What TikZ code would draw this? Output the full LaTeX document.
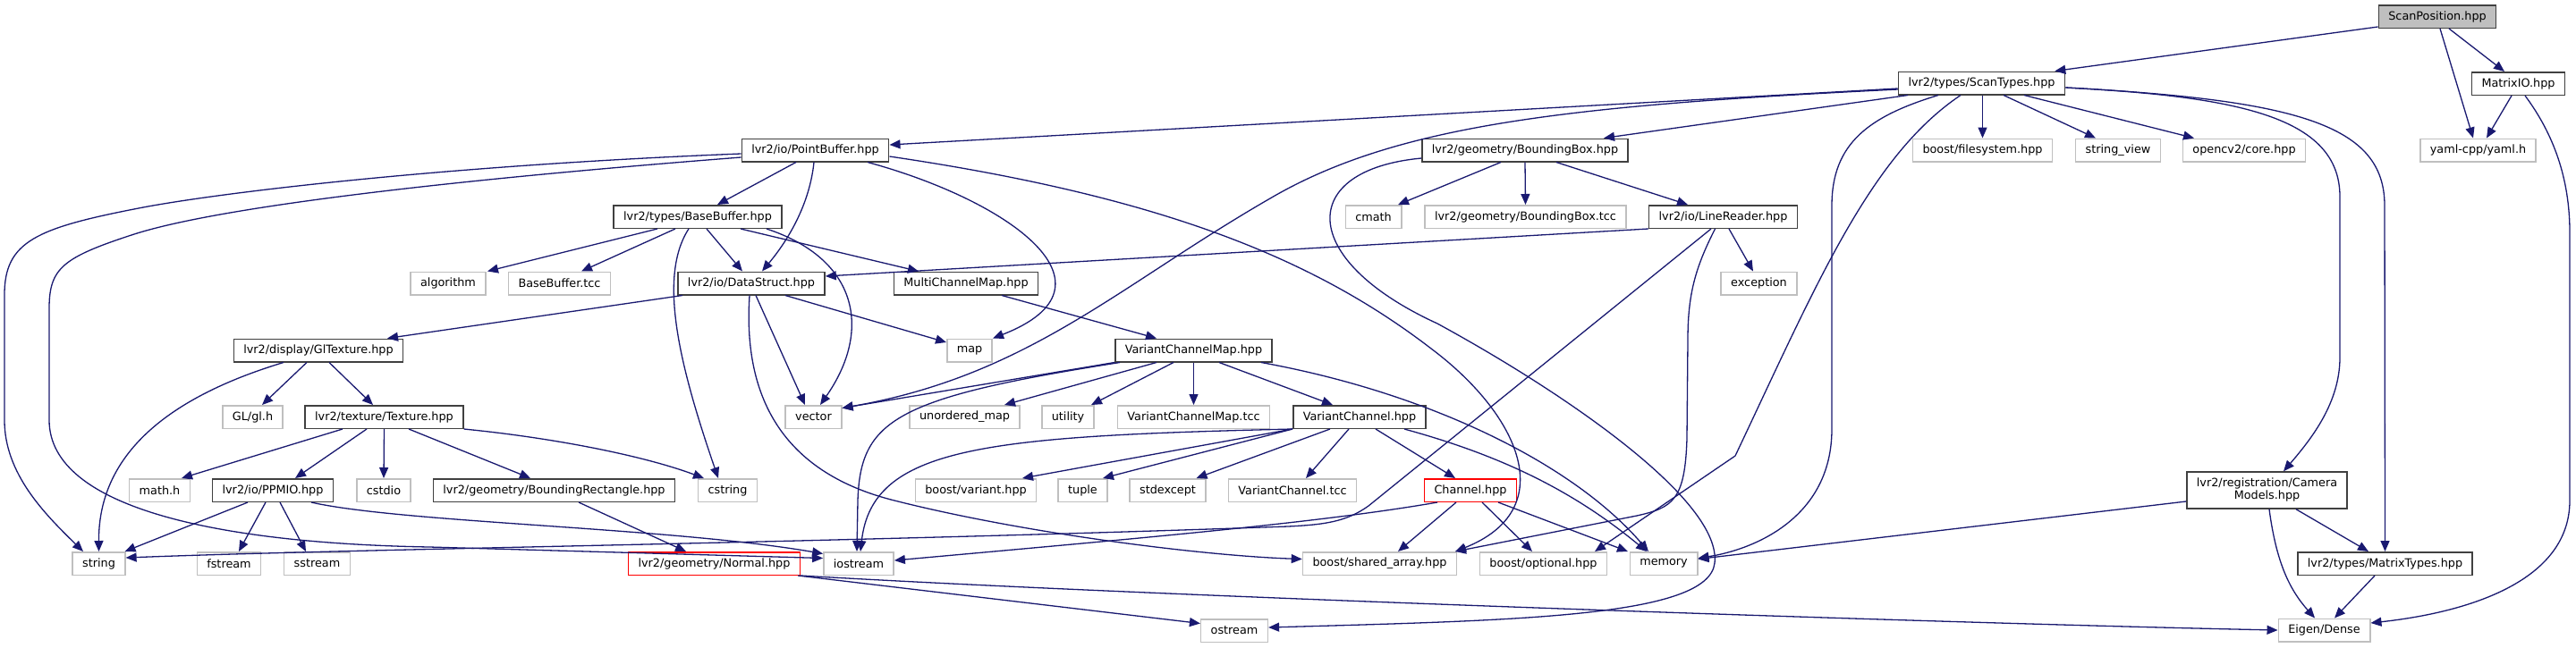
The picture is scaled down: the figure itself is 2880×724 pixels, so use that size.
\documentclass[tikz,border=0pt]{standalone}
\usepackage{fontspec}
\setmainfont{DejaVu Sans}
\usetikzlibrary{arrows.meta}
\definecolor{edgeblue}{HTML}{191970}
\definecolor{grey25}{HTML}{404040}
\definecolor{grey75}{HTML}{BFBFBF}
\tikzset{
  file/.style={draw=grey25,fill=white,line width=1.5pt,inner xsep=11pt,inner ysep=0pt,
    minimum height=25.5pt,font=\fontsize{12.8}{14}\selectfont},
  sysfile/.style={file,draw=grey75},
  cutfile/.style={file,draw=red},
  rootfile/.style={file,fill=grey75},
  inc/.style={draw=edgeblue,line width=1.3pt,-{Triangle[length=12pt,width=10pt]}}
}
\begin{document}
\begin{tikzpicture}[x=1pt,y=-1pt]
  \fill[white] (0,0) rectangle (2880,724);
  \useasboundingbox (0,0) rectangle (2880,724);

  % Included file and headers with docs
  \node[rootfile] (scanpos) at (2725,18.5) {ScanPosition.hpp};
  \foreach \n/\x/\y/\t in {matrixio/2815.5/93.5/{MatrixIO.hpp},
      scantypes/2215.5/93/{lvr2/types/ScanTypes.hpp},
      pointbuffer/911.5/168/{lvr2/io/PointBuffer.hpp},
      bbox/1705/168/{lvr2/geometry/BoundingBox.hpp},
      basebuffer/780/242.5/{lvr2/types/BaseBuffer.hpp},
      linereader/1926.5/242.5/{lvr2/io/LineReader.hpp},
      datastruct/840/317/{lvr2/io/DataStruct.hpp},
      mcm/1080/317/{MultiChannelMap.hpp},
      gltexture/356/392/{lvr2/display/GlTexture.hpp},
      vcm/1334.5/392/{VariantChannelMap.hpp},
      texture/429.5/466.5/{lvr2/texture/Texture.hpp},
      vc/1520/466.5/{VariantChannel.hpp},
      ppmio/305/548.5/{lvr2/io/PPMIO.hpp},
      brect/619.5/548.5/{lvr2/geometry/BoundingRectangle.hpp},
      matrixtypes/2666.5/630.5/{lvr2/types/MatrixTypes.hpp}} {
    \node[file] (\n) at (\x,\y) {\t};
  }
  \node[file,minimum height=41pt,font=\fontsize{12.8}{13.7}\selectfont] (camera) at (2534.5,548.5)
    {\begin{tabular}{@{}c@{}}lvr2/registration/Camera\\Models.hpp\end{tabular}};

  % Headers with truncated graphs
  \node[cutfile] (channel) at (1644,548.5) {Channel.hpp};
  \node[cutfile] (normal) at (798.5,630.5) {lvr2/geometry/Normal.hpp};

  % System and external headers
  \foreach \n/\x/\y/\t in {yaml/2770.5/168/{yaml-cpp/yaml.h},
      opencv/2509/168/{opencv2/core.hpp},
      stringview/2368/168/{string\_view},
      filesystem/2216.5/168/{boost/filesystem.hpp},
      cmath/1535.5/242.5/{cmath},
      bboxtcc/1705.5/242.5/{lvr2/geometry/BoundingBox.tcc},
      algorithm/501/317/{algorithm},
      basebuffertcc/625.5/317/{BaseBuffer.tcc},
      exception/1966.5/317/{exception},
      map/1084/392/{map},
      gl/282.5/466.5/{GL/gl.h},
      vector/909.5/466.5/{vector},
      unordered/1078.5/466.5/{unordered\_map},
      utility/1194/466.5/{utility},
      vcmtcc/1334.5/466.5/{VariantChannelMap.tcc},
      math/178.5/548.5/{math.h},
      cstdio/429/548.5/{cstdio},
      cstring/813.5/548.5/{cstring},
      variant/1091/548.5/{boost/variant.hpp},
      tuple/1210.5/548.5/{tuple},
      stdexcept/1305.5/548.5/{stdexcept},
      vctcc/1445/548.5/{VariantChannel.tcc},
      string/110.5/630.5/{string},
      fstream/256/630.5/{fstream},
      sstream/354.5/630.5/{sstream},
      iostream/960/630.5/{iostream},
      sharedarray/1542.5/630.5/{boost/shared\_array.hpp},
      optional/1725.5/630.5/{boost/optional.hpp},
      memory/1860/630.5/{memory},
      ostream/1380/705.5/{ostream},
      eigen/2598.5/705/{Eigen/Dense}} {
    \node[sysfile] (\n) at (\x,\y) {\t};
  }

  % ScanPosition.hpp and MatrixIO.hpp
  \draw[inc] ([yshift=2pt]scanpos.south west) -- ([xshift=-12pt]scantypes.north east);
  \draw[inc] ([xshift=3pt]scanpos.south) -- ([xshift=-5.5pt]yaml.north);
  \draw[inc] ([xshift=13pt]scanpos.south) -- ([xshift=-15.5pt]matrixio.north);
  \draw[inc] ([xshift=-7.5pt]matrixio.south) -- ([xshift=9.5pt]yaml.north);
  \draw[inc] ([xshift=7.5pt]matrixio.south) .. controls (2855,150) and (2873,200) .. (2873,260)
    -- (2873,560) .. controls (2873,650) and (2760,685) .. ([yshift=8pt]eigen.east);

  % ScanTypes.hpp
  \draw[inc] ([yshift=-6pt]scantypes.west) -- ([yshift=6pt]pointbuffer.east);
  \draw[inc] ([yshift=-7pt]scantypes.west) .. controls (1750,118) and (1560,140) .. (1420,222)
    .. controls (1250,320) and (1150,420) .. ([yshift=10pt]vector.east);
  \draw[inc] ([xshift=-82.5pt]scantypes.south) -- ([xshift=88pt]bbox.north);
  \draw[inc] ([xshift=1pt]scantypes.south) -- (filesystem.north);
  \draw[inc] ([xshift=24.5pt]scantypes.south) -- ([xshift=-25pt]stringview.north);
  \draw[inc] ([xshift=47.5pt]scantypes.south) -- ([xshift=-56pt]opencv.north);
  \draw[inc] ([yshift=-5pt]scantypes.east) .. controls (2500,108) and (2616,130) .. (2616,220)
    -- (2616,400) .. controls (2616,450) and (2585,490) .. ([xshift=18.5pt]camera.north);
  \draw[inc] ([yshift=-5pt]scantypes.east) .. controls (2570,112) and (2666,140) .. (2666,230)
    -- (matrixtypes.north);
  \draw[inc] ([xshift=-48.5pt]scantypes.south) .. controls (2090,130) and (2048,160) .. (2048,230)
    -- (2048,480) .. controls (2048,580) and (1960,615) .. ([yshift=6pt]memory.east);
  \draw[inc] ([xshift=-23.5pt]scantypes.south) .. controls (2090,175) and (2030,320) .. (1940,510)
    -- ([xshift=57.5pt]optional.north);

  % PointBuffer.hpp
  \draw[inc] ([xshift=-21.5pt]pointbuffer.south) -- ([xshift=22pt]basebuffer.north);
  \draw[inc] ([xshift=-1.5pt]pointbuffer.south) .. controls (905,230) and (880,270) .. ([xshift=12pt]datastruct.north);
  \draw[inc] ([yshift=-4pt]pointbuffer.west) .. controls (500,185) and (250,215) .. (160,232)
    .. controls (40,255) and (5,270) .. (5,330) -- (5,470)
    .. controls (5,530) and (50,575) .. ([xshift=-17.5pt]string.north);
  \draw[inc] ([yshift=-8pt]pointbuffer.west) .. controls (520,200) and (250,230) .. (150,262)
    .. controls (70,288) and (55,300) .. (55,345) -- (55,470)
    .. controls (55,570) and (250,608) .. (480,612) -- ([yshift=6pt]iostream.west);
  \draw[inc] ([xshift=58.5pt]pointbuffer.south) .. controls (1130,225) and (1260,320) .. ([xshift=26pt]map.north);
  \draw[inc] ([yshift=-7pt]pointbuffer.east) .. controls (1300,220) and (1470,290) .. (1600,390)
    .. controls (1700,465) and (1745,570) .. ([xshift=84.5pt]sharedarray.north);

  % BaseBuffer.hpp
  \draw[inc] ([xshift=-45pt]basebuffer.south) -- ([xshift=44pt]algorithm.north);
  \draw[inc] ([xshift=-25pt]basebuffer.south) -- ([xshift=24.5pt]basebuffertcc.north);
  \draw[inc] ([xshift=10pt]basebuffer.south) -- ([xshift=-10pt]datastruct.north);
  \draw[inc] ([xshift=-10pt]basebuffer.south) .. controls (735,310) and (760,410) .. ([xshift=-10.5pt]cstring.north);
  \draw[inc] ([xshift=77pt]basebuffer.south) .. controls (960,290) and (975,370) .. ([xshift=7.5pt]vector.north);
  \draw[inc] ([xshift=48pt]basebuffer.south) -- ([xshift=-53pt]mcm.north);

  % BoundingBox.hpp
  \draw[inc] ([xshift=-27pt]bbox.south) -- ([xshift=27.5pt]cmath.north);
  \draw[inc] (bbox.south) -- (bboxtcc.north);
  \draw[inc] ([xshift=35pt]bbox.south) -- ([xshift=-39.5pt]linereader.north);
  \draw[inc] ([yshift=-9pt]bbox.west) .. controls (1450,190) and (1450,290) .. (1607,362)
    .. controls (1750,440) and (1925,560) .. (1917,630)
    .. controls (1910,690) and (1700,694) .. ([yshift=3.5pt]ostream.east);

  % LineReader.hpp
  \draw[inc] (linereader.south west) -- ([yshift=8pt]datastruct.east);
  \draw[inc] ([xshift=6.5pt]linereader.south) -- ([xshift=-6.5pt]exception.north);
  \draw[inc] ([xshift=-13.5pt]linereader.south) -- (1530,566)
    .. controls (1505,584) and (1480,587) .. (1440,589)
    .. controls (900,608) and (400,614) .. ([yshift=6.5pt]string.east);
  \draw[inc] ([xshift=-9pt]linereader.south) .. controls (1895,300) and (1887,330) .. (1887,380)
    -- (1886,490) .. controls (1884,560) and (1870,568) .. (1830,577) -- ([xshift=84.5pt]sharedarray.north);

  % DataStruct.hpp and MultiChannelMap.hpp
  \draw[inc] ([xshift=-77pt]datastruct.south) -- ([xshift=77pt]gltexture.north);
  \draw[inc] ([xshift=38pt]datastruct.south) -- ([yshift=9pt]map.west);
  \draw[inc] ([xshift=5pt]datastruct.south) -- ([xshift=-9.5pt]vector.north);
  \draw[inc] ([xshift=-2pt]datastruct.south) .. controls (830,450) and (880,530) .. (1000,560)
    .. controls (1150,598) and (1350,622) .. ([yshift=5pt]sharedarray.west);
  \draw[inc] ([xshift=40pt]mcm.south) -- ([xshift=-41.5pt]vcm.north);

  % GlTexture.hpp, Texture.hpp, PPMIO.hpp
  \draw[inc] ([xshift=-39pt]gltexture.south) .. controls (170,450) and (110,520) .. (string.north);
  \draw[inc] ([xshift=-13pt]gltexture.south) -- ([xshift=10.5pt]gl.north);
  \draw[inc] ([xshift=12pt]gltexture.south) -- ([xshift=-12.5pt]texture.north);
  \draw[inc] ([xshift=-46.5pt]texture.south) -- ([xshift=24.5pt]math.north);
  \draw[inc] ([xshift=-19.5pt]texture.south) -- ([xshift=25pt]ppmio.north);
  \draw[inc] (texture.south) -- (cstdio.north);
  \draw[inc] ([xshift=27.5pt]texture.south) -- ([xshift=-26.5pt]brect.north);
  \draw[inc] (texture.south east) .. controls (620,490) and (720,510) .. ([xshift=-26.5pt]cstring.north);
  \draw[inc] ([xshift=-28pt]ppmio.south) -- ([xshift=29pt]string.north);
  \draw[inc] ([xshift=-8pt]ppmio.south) -- ([xshift=11pt]fstream.north);
  \draw[inc] ([xshift=8pt]ppmio.south) -- ([xshift=-12.5pt]sstream.north);
  \draw[inc] ([xshift=43pt]ppmio.south) .. controls (450,585) and (750,590) .. ([yshift=11pt]iostream.west);

  % BoundingRectangle.hpp and Normal.hpp
  \draw[inc] ([xshift=27.5pt]brect.south) -- ([xshift=-31.5pt]normal.north);
  \draw[inc] ([xshift=-3pt]normal.south east) -- ([yshift=8pt]ostream.west);
  \draw[inc] (normal.south east) .. controls (1300,668) and (2200,698) .. (eigen.west);

  % VariantChannelMap.hpp
  \draw[inc] (vcm.south west) -- ([yshift=10pt]vector.east);
  \draw[inc] ([xshift=6pt]vcm.south west) .. controls (1000,445) and (962,470) .. (959,560)
    -- ([xshift=-2pt]iostream.north);
  \draw[inc] ([xshift=-41.5pt]vcm.south) -- ([xshift=44.5pt]unordered.north);
  \draw[inc] ([xshift=-22.5pt]vcm.south) -- ([xshift=26pt]utility.north);
  \draw[inc] (vcm.south) -- (vcmtcc.north);
  \draw[inc] ([xshift=28.5pt]vcm.south) -- ([xshift=-30pt]vc.north);
  \draw[inc] ([xshift=-13pt]vcm.south east) .. controls (1600,440) and (1760,520) .. ([xshift=-17pt]memory.north);

  % VariantChannel.hpp and Channel.hpp
  \draw[inc] ([xshift=-12pt]vc.south) -- ([xshift=15pt]vctcc.north);
  \draw[inc] ([xshift=18pt]vc.south) -- ([xshift=-17pt]channel.north);
  \draw[inc] ([xshift=50pt]vc.south) .. controls (1680,510) and (1760,550) .. ([xshift=-19pt]memory.north);
  \draw[inc] (vc.south west) -- ([xshift=52pt]variant.north);
  \draw[inc] (vc.south west) -- ([xshift=22.5pt]tuple.north);
  \draw[inc] ([xshift=-33pt]vc.south) -- ([xshift=32pt]stdexcept.north);
  \draw[inc] (vc.south west) .. controls (1100,488) and (975,500) .. ([xshift=2pt]iostream.north);
  \draw[inc] ([xshift=-16pt]channel.south) -- ([xshift=20.5pt]sharedarray.north);
  \draw[inc] ([xshift=13pt]channel.south) -- ([xshift=-12.5pt]optional.north);
  \draw[inc] ([xshift=31pt]channel.south) -- ([xshift=-40pt]memory.north);
  \draw[inc] ([xshift=-37pt]channel.south) .. controls (1480,584) and (1300,600) .. ([yshift=3.5pt]iostream.east);

  % CameraModels.hpp and MatrixTypes.hpp
  \draw[inc] ([yshift=-12.5pt]camera.west) -- ([yshift=5pt]memory.east);
  \draw[inc] ([xshift=32.5pt]camera.south) -- ([xshift=-18.5pt]matrixtypes.north);
  \draw[inc] ([xshift=2.5pt]camera.south) .. controls (2545,630) and (2560,660) .. ([xshift=-10.5pt]eigen.north);
  \draw[inc] ([xshift=-11.5pt]matrixtypes.south) -- ([xshift=11.5pt]eigen.north);
\end{tikzpicture}
\end{document}
